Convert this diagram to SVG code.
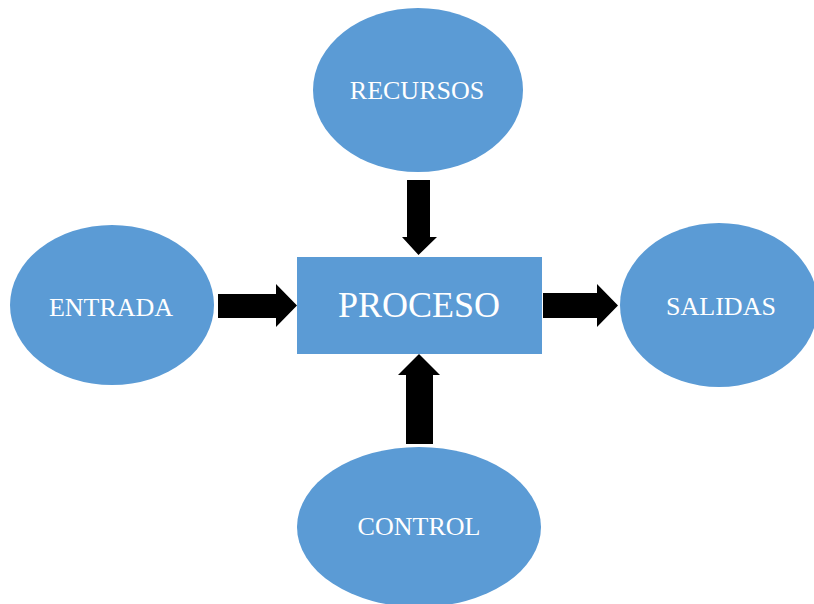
<svg xmlns="http://www.w3.org/2000/svg" width="814" height="604" viewBox="0 0 814 604">
  <style>
    .node { fill: #5B9BD5; }
    .label { fill: #FFFFFF; font-family: "Liberation Serif", "Times New Roman", serif; font-size: 26px; text-anchor: middle; }
    .big { font-size: 36px; }
    .arrow { fill: #000000; }
  </style>
  <rect width="814" height="604" fill="#FFFFFF"/>

  <g id="recursos">
    <ellipse class="node" cx="418" cy="90" rx="105" ry="82"/>
    <text class="label" x="417" y="99">RECURSOS</text>
  </g>

  <g id="entrada">
    <ellipse class="node" cx="112" cy="305" rx="102" ry="80"/>
    <text class="label" x="111" y="316">ENTRADA</text>
  </g>

  <g id="proceso">
    <rect class="node" x="297" y="257" width="245" height="97"/>
    <text class="label big" x="419" y="317">PROCESO</text>
  </g>

  <g id="salidas">
    <ellipse class="node" cx="719" cy="305" rx="99" ry="82"/>
    <text class="label" x="721" y="315">SALIDAS</text>
  </g>

  <g id="control">
    <ellipse class="node" cx="419" cy="527" rx="122" ry="80"/>
    <text class="label" x="419" y="535">CONTROL</text>
  </g>

  <g id="connectors">
    <!-- RECURSOS to PROCESO -->
    <polygon class="arrow" points="407,180 430,180 430,237 437,237 418.5,255 402,237 407,237"/>
    <!-- ENTRADA to PROCESO -->
    <polygon class="arrow" points="218,294 276,294 276,284 297,305.5 276,327 276,318 218,318"/>
    <!-- PROCESO to SALIDAS -->
    <polygon class="arrow" points="543,293 597,293 597,284 618,305.5 597,327 597,318 543,318"/>
    <!-- CONTROL to PROCESO -->
    <polygon class="arrow" points="406,444 433,444 433,375 440,375 419,354 398,375 406,375"/>
  </g>
</svg>
